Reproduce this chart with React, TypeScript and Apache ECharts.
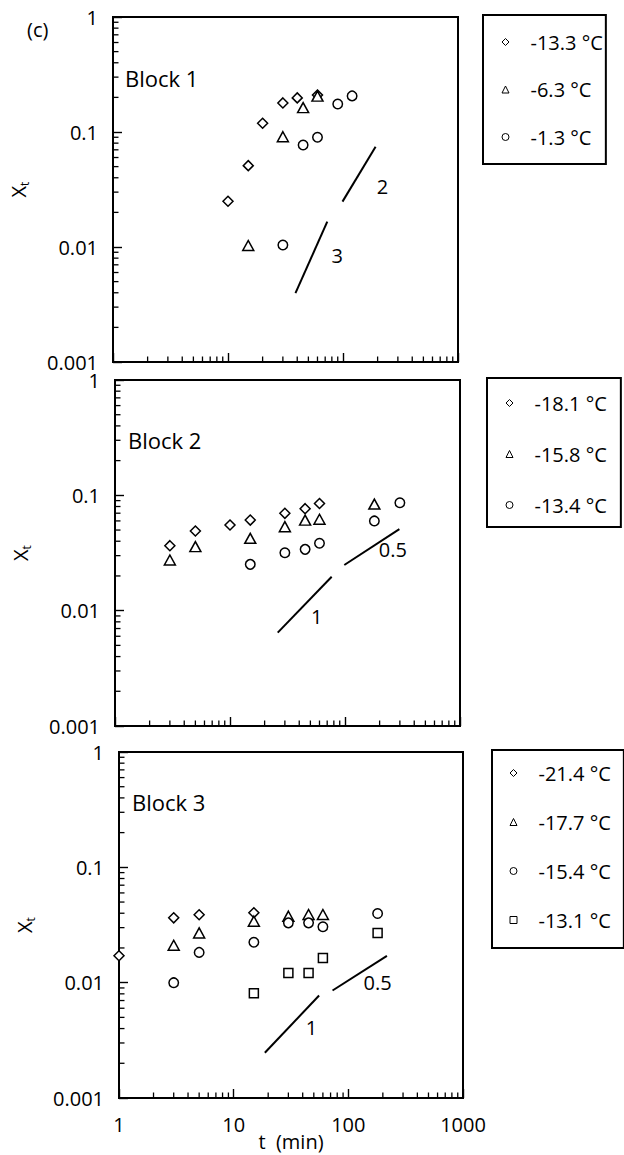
import React, { useEffect, useRef } from "react";
import * as echarts from "echarts";

const FONT = "Open Sans";
const X_MIN = 1;
const X_MAX = 1000;
const Y_MIN = 0.001;
const Y_MAX = 1;

const xTickLabels = ["1", "10", "100", "1000"];
const yTickLabels = ["0.001", "0.01", "0.1", "1"];
const xMinorTicks = [2, 3, 4, 5, 6, 7, 8, 9, 20, 30, 40, 50, 60, 70, 80, 90, 200, 300, 400, 500, 600, 700, 800, 900];
const yMinorTicks = [0.002, 0.003, 0.004, 0.005, 0.006, 0.007, 0.008, 0.009, 0.02, 0.03, 0.04, 0.05, 0.06, 0.07, 0.08, 0.09, 0.2, 0.3, 0.4, 0.5, 0.6, 0.7, 0.8, 0.9];

const blockTitles = ["Block 1", "Block 2", "Block 3"];

// Block 1
const b1Names = ["-13.3 °C", "-6.3 °C", "-1.3 °C"];
const b1Diamond = [[10, 0.025], [15, 0.051], [20, 0.119], [30, 0.179], [40, 0.198], [60, 0.21]];
const b1Triangle = [[15, 0.0103], [30, 0.091], [45, 0.163], [60, 0.205]];
const b1Circle = [[30, 0.0104], [45, 0.077], [60, 0.09], [90, 0.175], [120, 0.206]];
const b1SlopeA = [[99, 0.0248], [192, 0.0744]];
const b1SlopeB = [[38.6, 0.00397], [73, 0.0166]];
const b1SlopeLabels = [[220, 0.0334, "2"], [89, 0.0085, "3"]];

// Block 2
const b2Names = ["-18.1 °C", "-15.8 °C", "-13.4 °C"];
const b2Diamond = [[3, 0.0366], [5, 0.049], [10, 0.0553], [15, 0.061], [30, 0.0698], [45, 0.0766], [60, 0.085]];
const b2Triangle = [[3, 0.0275], [5, 0.0359], [15, 0.0424], [30, 0.0535], [45, 0.061], [60, 0.062], [180, 0.084]];
const b2Circle = [[15, 0.0252], [30, 0.0318], [45, 0.034], [60, 0.0384], [180, 0.06], [300, 0.0863]];
const b2SlopeA = [[26, 0.00645], [76.6, 0.0197]];
const b2SlopeB = [[98.6, 0.0249], [297, 0.051]];
const b2SlopeLabels = [[56.7, 0.00885, "1"], [261, 0.0342, "0.5"]];

// Block 3
const b3Names = ["-21.4 °C", "-17.7 °C", "-15.4 °C", "-13.1 °C"];
const b3Diamond = [[1, 0.0171], [3, 0.0365], [5, 0.0388], [15, 0.0404]];
const b3Triangle = [[3, 0.0211], [5, 0.027], [15, 0.0341], [30, 0.0377], [45, 0.039], [60, 0.039]];
const b3Circle = [[3, 0.01], [5, 0.0183], [15, 0.0224], [30, 0.033], [45, 0.033], [60, 0.0305], [180, 0.0398]];
const b3Square = [[15, 0.0081], [30, 0.0121], [45, 0.0121], [60, 0.0164], [180, 0.027]];
const b3SlopeA = [[18.7, 0.00247], [55.6, 0.00773]];
const b3SlopeB = [[72.8, 0.00855], [217, 0.0171]];
const b3SlopeLabels = [[47.7, 0.00405, "1"], [180, 0.01, "0.5"]];

const blocks = [
  { names: b1Names, series: [b1Diamond, b1Triangle, b1Circle], symbols: ["diamond", "triangle", "circle"], slopes: [b1SlopeA, b1SlopeB], slopeLabels: b1SlopeLabels },
  { names: b2Names, series: [b2Diamond, b2Triangle, b2Circle], symbols: ["diamond", "triangle", "circle"], slopes: [b2SlopeA, b2SlopeB], slopeLabels: b2SlopeLabels },
  { names: b3Names, series: [b3Diamond, b3Triangle, b3Circle, b3Square], symbols: ["diamond", "triangle", "circle", "rect"], slopes: [b3SlopeA, b3SlopeB], slopeLabels: b3SlopeLabels },
];

const legendIcons: Record<string, string> = {
  diamond: "path://M5,0L10,5L5,10L0,5Z",
  triangle: "path://M5,0L10,10L0,10Z",
  circle: "path://M0,5A5,5,0,1,1,10,5A5,5,0,1,1,0,5Z",
  rect: "path://M0,0L10,0L10,10L0,10Z",
};

const grids = [
  { left: 113, top: 17, width: 345, height: 345 },
  { left: 115, top: 380, width: 345, height: 346 },
  { left: 119, top: 752, width: 344, height: 346 },
];

const legendLayouts = [
  { left: 483, top: 15, padding: [15, 3, 15, 18.5], itemGap: 23.5 },
  { left: 487, top: 378, padding: [13, 14, 10, 18.5], itemGap: 27 },
  { left: 492, top: 750, padding: [11, 13, 16, 17.5], itemGap: 25 },
];

const titlePos = [
  { x: 125, y: 78 },
  { x: 128, y: 440 },
  { x: 132, y: 802 },
];

const symbolSizes: Record<string, any> = {
  diamond: [10, 10],
  triangle: [11, 10],
  circle: 9.5,
  rect: 9,
};

function fmtLog(labels: string[], minVal: number) {
  return (v: number) => {
    const idx = Math.round(Math.log10(v) - Math.log10(minVal));
    return labels[idx] ?? "";
  };
}

export default function App() {
  const ref = useRef<HTMLDivElement>(null);
  useEffect(() => {
    if (!ref.current) return;
    const chart = echarts.init(ref.current, undefined, { renderer: "svg" });

    const xAxes: any[] = [];
    const yAxes: any[] = [];
    const series: any[] = [];
    const legends: any[] = [];

    blocks.forEach((b, gi) => {
      xAxes.push({
        gridIndex: gi,
        type: "log",
        logBase: 10,
        min: X_MIN,
        max: X_MAX,
        axisLine: { show: true, onZero: false, lineStyle: { color: "#000", width: 2 } },
        axisTick: { show: true, inside: true, length: 9, lineStyle: { color: "#000", width: 1.4 } },
        axisLabel: {
          show: gi === 2,
          formatter: fmtLog(xTickLabels, X_MIN),
          fontSize: 20,
          color: "#000",
          fontFamily: FONT,
          margin: 16,
          showMinLabel: true,
          showMaxLabel: true,
        },
        splitLine: { show: false },
        name: gi === 2 ? "t  (min)" : "",
        nameLocation: "middle",
        nameMoveOverlap: false,
        nameGap: 33,
        nameTextStyle: { fontSize: 20, lineHeight: 20, color: "#000", fontFamily: FONT },
      });
      yAxes.push({
        gridIndex: gi,
        type: "log",
        logBase: 10,
        min: Y_MIN,
        max: Y_MAX,
        axisLine: { show: true, onZero: false, lineStyle: { color: "#000", width: 2 } },
        axisTick: { show: true, inside: true, length: 9, lineStyle: { color: "#000", width: 1.4 } },
        axisLabel: {
          show: true,
          formatter: fmtLog(yTickLabels, Y_MIN),
          fontSize: 20,
          color: "#000",
          fontFamily: FONT,
          margin: 15,
          showMinLabel: true,
          showMaxLabel: true,
        },
        splitLine: { show: false },
        name: "{x|X}{t|t}",
        nameLocation: "middle",
        nameRotate: 90,
        nameMoveOverlap: false,
        nameGap: 83,
        nameTextStyle: {
          color: "#000",
          fontFamily: FONT,
          rich: {
            x: { fontSize: 20, lineHeight: 24, fontFamily: FONT, color: "#000" },
            t: { fontSize: 12, lineHeight: 12, verticalAlign: "bottom", fontFamily: FONT, color: "#000" },
          },
        },
      });

      b.series.forEach((data, si) => {
        const sym = b.symbols[si];
        series.push({
          type: "scatter",
          name: b.names[si],
          xAxisIndex: gi,
          yAxisIndex: gi,
          data,
          symbol: sym,
          symbolSize: symbolSizes[sym],
          clip: false,
          itemStyle: { color: "#fff", borderColor: "#000", borderWidth: 1.5, opacity: 1 },
          z: 3,
        });
      });

      b.slopes.forEach((data) => {
        series.push({
          type: "line",
          xAxisIndex: gi,
          yAxisIndex: gi,
          data,
          symbol: "none",
          silent: true,
          lineStyle: { color: "#000", width: 2 },
          z: 2,
        });
      });

      series.push({
        type: "scatter",
        xAxisIndex: gi,
        yAxisIndex: gi,
        silent: true,
        symbolSize: 1,
        itemStyle: { color: "rgba(0,0,0,0)", opacity: 1 },
        data: b.slopeLabels.map((d) => ({ name: d[2] as string, value: [d[0], d[1]] })),
        label: {
          show: true,
          position: "inside",
          formatter: "{b}",
          fontSize: 20,
          color: "#000",
          opacity: 1,
          textBorderWidth: 0,
          fontFamily: FONT,
        },
        z: 4,
      });

      series.push({
        type: "custom",
        xAxisIndex: gi,
        yAxisIndex: gi,
        silent: true,
        clip: false,
        data: xMinorTicks.map((v) => [v, Y_MIN]),
        encode: { x: 0, y: 1 },
        renderItem: (params: any, api: any) => {
          const p = api.coord([api.value(0), api.value(1)]);
          return {
            type: "line",
            shape: { x1: p[0], y1: p[1], x2: p[0], y2: p[1] - 5.5 },
            style: { stroke: "#000", lineWidth: 1.3 },
          };
        },
        z: 5,
      });
      series.push({
        type: "custom",
        xAxisIndex: gi,
        yAxisIndex: gi,
        silent: true,
        clip: false,
        data: yMinorTicks.map((v) => [X_MIN, v]),
        encode: { x: 0, y: 1 },
        renderItem: (params: any, api: any) => {
          const p = api.coord([api.value(0), api.value(1)]);
          return {
            type: "line",
            shape: { x1: p[0], y1: p[1], x2: p[0] + 5.5, y2: p[1] },
            style: { stroke: "#000", lineWidth: 1.3 },
          };
        },
        z: 5,
      });

      const ll = legendLayouts[gi];
      legends.push({
        orient: "vertical",
        left: ll.left,
        top: ll.top,
        padding: ll.padding,
        itemGap: ll.itemGap,
        itemWidth: 40,
        itemHeight: 7,
        symbolKeepAspect: true,
        borderColor: "#000",
        borderWidth: 2,
        selectedMode: false,
        data: b.names.map((n, si) => ({ name: n, icon: legendIcons[b.symbols[si]] })),
        itemStyle: { color: "#fff", borderColor: "#000", borderWidth: 1 },
        textStyle: { fontSize: 20, lineHeight: 24, color: "#000", fontFamily: FONT },
      });
    });

    const graphics: any[] = [
      {
        type: "text",
        x: 27,
        y: 29,
        style: { text: "(c)", fontSize: 20, fontFamily: FONT, fill: "#000", verticalAlign: "middle" },
      },
      ...blockTitles.map((t, i) => ({
        type: "text",
        x: titlePos[i].x,
        y: titlePos[i].y,
        style: { text: t, fontSize: 22, fontFamily: FONT, fill: "#000", verticalAlign: "middle" },
      })),
    ];

    chart.setOption({
      animation: false,
      backgroundColor: "#fff",
      grid: grids.map((g) => ({ ...g, show: true, borderColor: "#000", borderWidth: 2, backgroundColor: "transparent", containLabel: false })),
      xAxis: xAxes,
      yAxis: yAxes,
      legend: legends,
      series,
      graphic: graphics,
    });

    return () => chart.dispose();
  }, []);

  return (
    <div
      ref={ref}
      style={{ position: "absolute", left: 0, top: 0, width: 624, height: 1155, background: "#fff" }}
    />
  );
}
